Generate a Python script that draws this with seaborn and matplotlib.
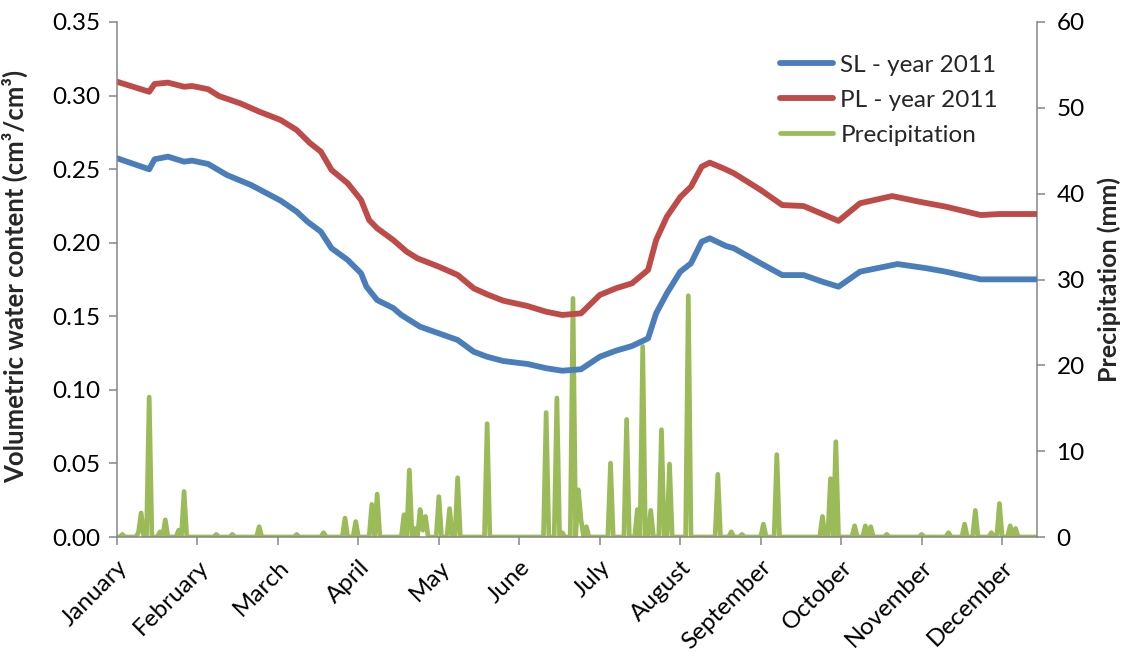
import numpy as np
import pandas as pd
import matplotlib
matplotlib.use("Agg")
import matplotlib.pyplot as plt
import seaborn as sns

# Soil water content (cm3/cm3) by day of the record
sl_days = [0, 12, 14, 19, 25, 28, 34, 41, 50, 61, 67, 71, 76, 80, 86, 91, 93, 97, 103,
           106, 113, 120, 127, 133, 138, 144, 153, 160, 166, 173, 180, 186, 192, 198,
           201, 205, 210, 214, 218, 221, 227, 230, 240, 248, 256, 263, 269, 277, 291,
           302, 309, 322, 343]
sl_vwc = [0.2574, 0.2499, 0.2567, 0.2585, 0.2551, 0.2558, 0.2535, 0.2460, 0.2392,
          0.2286, 0.2211, 0.2143, 0.2075, 0.1962, 0.1883, 0.1792, 0.1701, 0.1610,
          0.1556, 0.1509, 0.1429, 0.1384, 0.1339, 0.1259, 0.1225, 0.1196, 0.1176,
          0.1147, 0.1130, 0.1140, 0.1225, 0.1266, 0.1298, 0.1350, 0.1520, 0.1656,
          0.1803, 0.1860, 0.2007, 0.2030, 0.1978, 0.1962, 0.1860, 0.1780, 0.1780,
          0.1735, 0.1701, 0.1803, 0.1855, 0.1826, 0.1803, 0.1751, 0.1751]

pl_days = [0, 12, 14, 19, 25, 28, 34, 38, 46, 53, 61, 67, 72, 76, 80, 86, 91, 94, 97,
           103, 108, 112, 120, 127, 133, 138, 144, 153, 160, 166, 173, 180, 186, 192,
           198, 201, 205, 210, 214, 218, 221, 226, 230, 240, 248, 256, 263, 269, 277,
           289, 299, 309, 322, 329, 343]
pl_vwc = [0.3094, 0.3026, 0.3079, 0.3088, 0.3060, 0.3065, 0.3043, 0.2997, 0.2947,
          0.2891, 0.2834, 0.2766, 0.2676, 0.2619, 0.2494, 0.2404, 0.2290, 0.2154,
          0.2098, 0.2018, 0.1939, 0.1894, 0.1837, 0.1781, 0.1690, 0.1649, 0.1606,
          0.1570, 0.1531, 0.1509, 0.1520, 0.1645, 0.1690, 0.1724, 0.1815, 0.2018,
          0.2177, 0.2310, 0.2381, 0.2517, 0.2544, 0.2506, 0.2472, 0.2358, 0.2256,
          0.2249, 0.2195, 0.2148, 0.2268, 0.2317, 0.2279, 0.2245, 0.2188, 0.2195,
          0.2195]

# Daily precipitation (mm): days with rain; all other days are dry
rain_days = [2, 8, 9, 12, 16, 18, 23, 25, 37, 43, 53, 67, 77, 85, 89, 95, 97, 107,
             109, 111, 113, 114, 115, 120, 124, 127, 138, 160, 164, 166, 170, 172, 173,
             175, 184, 190, 194, 196, 199, 203, 206, 213, 224, 229, 233, 241, 246, 263,
             266, 268, 275, 279, 281, 287, 300, 310, 316, 320, 326, 329, 333, 335]
rain_mm = [0.3, 0.5, 2.8, 16.3, 0.6, 2.0, 0.8, 5.3, 0.3, 0.3, 1.2, 0.3, 0.5, 2.2,
           1.8, 3.8, 5.0, 2.6, 7.8, 1.0, 3.2, 0.8, 2.4, 4.7, 3.3, 6.9, 13.2, 14.5,
           16.2, 0.5, 27.8, 5.5, 2.0, 1.2, 8.6, 13.7, 3.2, 22.2, 3.1, 12.5, 8.5, 28.1,
           7.3, 0.6, 0.3, 1.5, 9.6, 2.4, 6.8, 11.1, 1.3, 1.3, 1.2, 0.3, 0.3, 0.5,
           1.5, 3.1, 0.5, 3.9, 1.3, 1.0]
n_days = 344

months = ["January", "February", "March", "April", "May", "June", "July",
          "August", "September", "October", "November", "December"]

sl = pd.DataFrame({"day": sl_days, "vwc": sl_vwc})
pl = pd.DataFrame({"day": pl_days, "vwc": pl_vwc})
rain = pd.DataFrame({"day": np.arange(n_days), "mm": 0.0})
rain.loc[rain["day"].isin(rain_days), "mm"] = rain_mm

sns.set_style("white")
plt.rcParams["font.family"] = ["Lato", "DejaVu Sans"]

BLUE = "#4A7EBB"
RED = "#BE4B48"
GREEN = "#9BBB59"
AXIS = "#868686"

fig = plt.figure(figsize=(11.29, 6.6), dpi=100)
ax = fig.add_axes([117 / 1129, 1 - 537 / 660, 920 / 1129, 515 / 660])
ax2 = ax.twinx()

sns.lineplot(data=rain, x="day", y="mm", ax=ax2, color=GREEN, linewidth=3.4,
             label="Precipitation", legend=False, solid_joinstyle="round",
             solid_capstyle="round")
sns.lineplot(data=sl, x="day", y="vwc", ax=ax, color=BLUE, linewidth=4.2,
             label="SL - year 2011", legend=False, solid_joinstyle="round",
             solid_capstyle="round")
sns.lineplot(data=pl, x="day", y="vwc", ax=ax, color=RED, linewidth=4.2,
             label="PL - year 2011", legend=False, solid_joinstyle="round",
             solid_capstyle="round")

# Draw the primary axes (soil moisture lines) above the precipitation axes
ax.set_zorder(ax2.get_zorder() + 1)
ax.patch.set_visible(False)

ax.set_xlim(0, n_days - 1)
ax.set_ylim(0, 0.35)
ax2.set_ylim(0, 60)
ax.set_yticks(np.arange(0, 0.351, 0.05))
ax.set_yticklabels([f"{v:.2f}" for v in np.arange(0, 0.351, 0.05)])
ax2.set_yticks(np.arange(0, 61, 10))
ax.set_xticks(np.arange(0, 331, 30))
ax.set_xticklabels(months, rotation=45, ha="right", rotation_mode="anchor")

fs = 17.5
for a in (ax, ax2):
    a.spines["top"].set_visible(False)
    for side in ("left", "right", "bottom"):
        a.spines[side].set_color(AXIS)
        a.spines[side].set_linewidth(1.1)
    a.tick_params(axis="both", which="major", direction="out", length=6, width=1.1,
                  color=AXIS, labelsize=fs, labelcolor="black", pad=4)
    a.set_xlabel("")
ax.spines["right"].set_visible(False)
ax2.spines["left"].set_visible(False)
ax2.spines["bottom"].set_visible(False)
ax.tick_params(axis="y", left=True, right=False, pad=6)
ax.tick_params(axis="x", bottom=True, pad=8)
ax2.tick_params(axis="y", right=True, left=False, pad=8)

ax.set_ylabel("Volumetric water content (cm³/cm³)", fontsize=18.5, fontweight="bold")
ax2.set_ylabel("Precipitation (mm)", fontsize=18, fontweight="bold")
ax.yaxis.set_label_coords(-0.097, 0.505)
ax2.yaxis.set_label_coords(1.066, 0.5)

handles = ax.get_lines()[:2] + ax2.get_lines()[:1]
labels = ["SL - year 2011", "PL - year 2011", "Precipitation"]
fig.legend(handles, labels, loc="upper left", bbox_to_anchor=(770 / 1129, 1 - 45 / 660),
           frameon=False, fontsize=fs, handlelength=2.2, handletextpad=0.3,
           labelspacing=0.58, borderaxespad=0)

fig.savefig("out.png", dpi=100)
